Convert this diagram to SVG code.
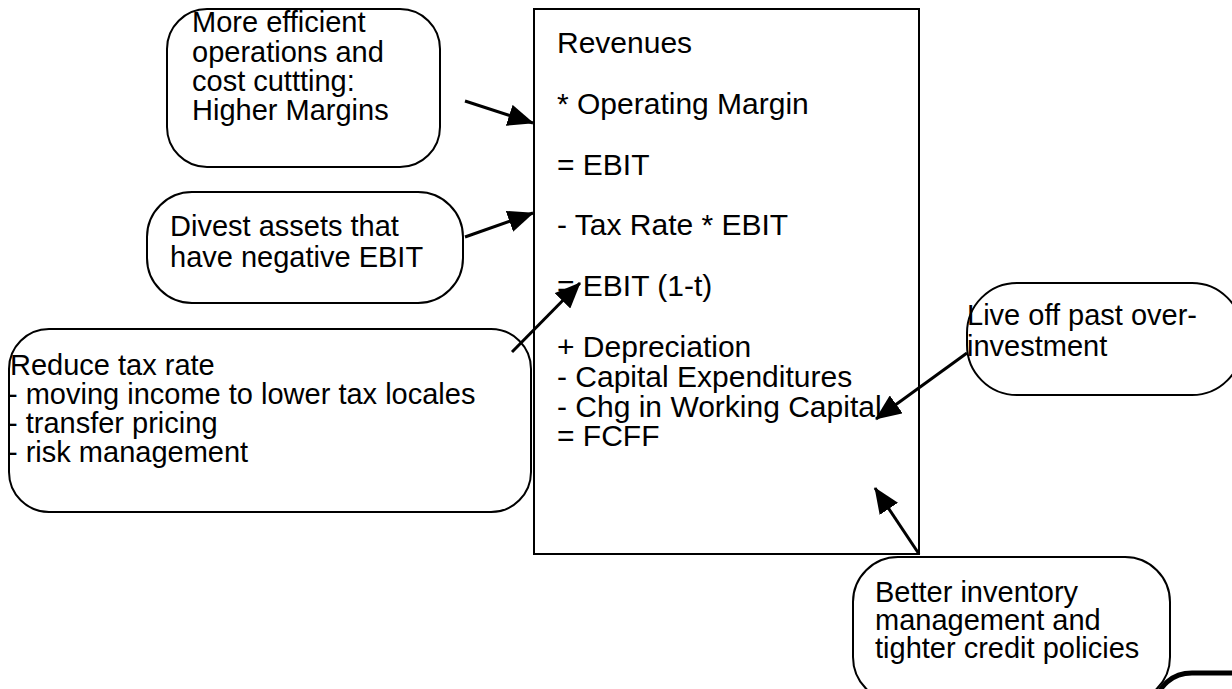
<svg xmlns="http://www.w3.org/2000/svg" width="1232" height="689" viewBox="0 0 1232 689">
<style>
text{font-family:"Liberation Sans",Arial,Helvetica,sans-serif;fill:#000}
.b{font-size:29px}
.m{font-size:30px}
.box{fill:#fff;stroke:#000;stroke-width:2}
.con{stroke:#000;stroke-width:3;fill:none;marker-end:url(#ah)}
</style>
<defs>
<marker id="ah" markerUnits="userSpaceOnUse" markerWidth="26" markerHeight="22" refX="25" refY="11" orient="auto">
<path d="M0,0 L26,11 L0,22 Z" fill="#000"/>
</marker>
</defs>
<rect width="1232" height="689" fill="#fff"/>
<g id="fcff">
<rect class="box" x="534" y="9" width="385" height="545"/>
<text class="m" x="557" y="53">Revenues</text>
<text class="m" x="557" y="114">* Operating Margin</text>
<text class="m" x="557" y="175">= EBIT</text>
<text class="m" x="557" y="235">- Tax Rate * EBIT</text>
<text class="m" x="557" y="296">= EBIT (1-t)</text>
<text class="m" x="557" y="357">+ Depreciation</text>
<text class="m" x="557" y="387">- Capital Expenditures</text>
<text class="m" x="557" y="417">- Chg in Working Capital</text>
<text class="m" x="557" y="446">= FCFF</text>
</g>
<g id="margins">
<rect class="box" x="167" y="9" width="273" height="158" rx="40"/>
<text class="b" x="192" y="32">More efficient</text>
<text class="b" x="192" y="62">operations and</text>
<text class="b" x="192" y="91">cost cuttting:</text>
<text class="b" x="192" y="120">Higher Margins</text>
</g>
<g id="divest">
<rect class="box" x="147" y="192" width="316" height="111" rx="45"/>
<text class="b" x="170" y="236">Divest assets that</text>
<text class="b" x="170" y="267">have negative EBIT</text>
</g>
<g id="tax">
<rect class="box" x="9" y="329" width="522" height="183" rx="40"/>
<text class="b" x="10" y="375">Reduce tax rate</text>
<text class="b" x="8" y="404">- moving income to lower tax locales</text>
<text class="b" x="8" y="433">- transfer pricing</text>
<text class="b" x="8" y="462">- risk management</text>
</g>
<g id="overinvest">
<rect class="box" x="967" y="283" width="275" height="112" rx="50"/>
<text class="b" x="967" y="325">Live off past over-</text>
<text class="b" x="967" y="356">investment</text>
</g>
<g id="inventory">
<rect class="box" x="853" y="557" width="317" height="145" rx="45"/>
<text class="b" x="875" y="602">Better inventory</text>
<text class="b" x="875" y="630">management and</text>
<text class="b" x="875" y="658">tighter credit policies</text>
</g>
<g id="corner">
<rect x="1157" y="673" width="120" height="60" rx="35" fill="#fff" stroke="#000" stroke-width="5"/>
</g>
<g id="connectors">
<line class="con" x1="465" y1="101" x2="533" y2="123"/>
<line class="con" x1="465" y1="237" x2="533" y2="213"/>
<line class="con" x1="512" y1="352" x2="580" y2="283"/>
<line class="con" x1="967" y1="353" x2="876" y2="419"/>
<line class="con" x1="919" y1="554" x2="875" y2="488"/>
</g>
</svg>
